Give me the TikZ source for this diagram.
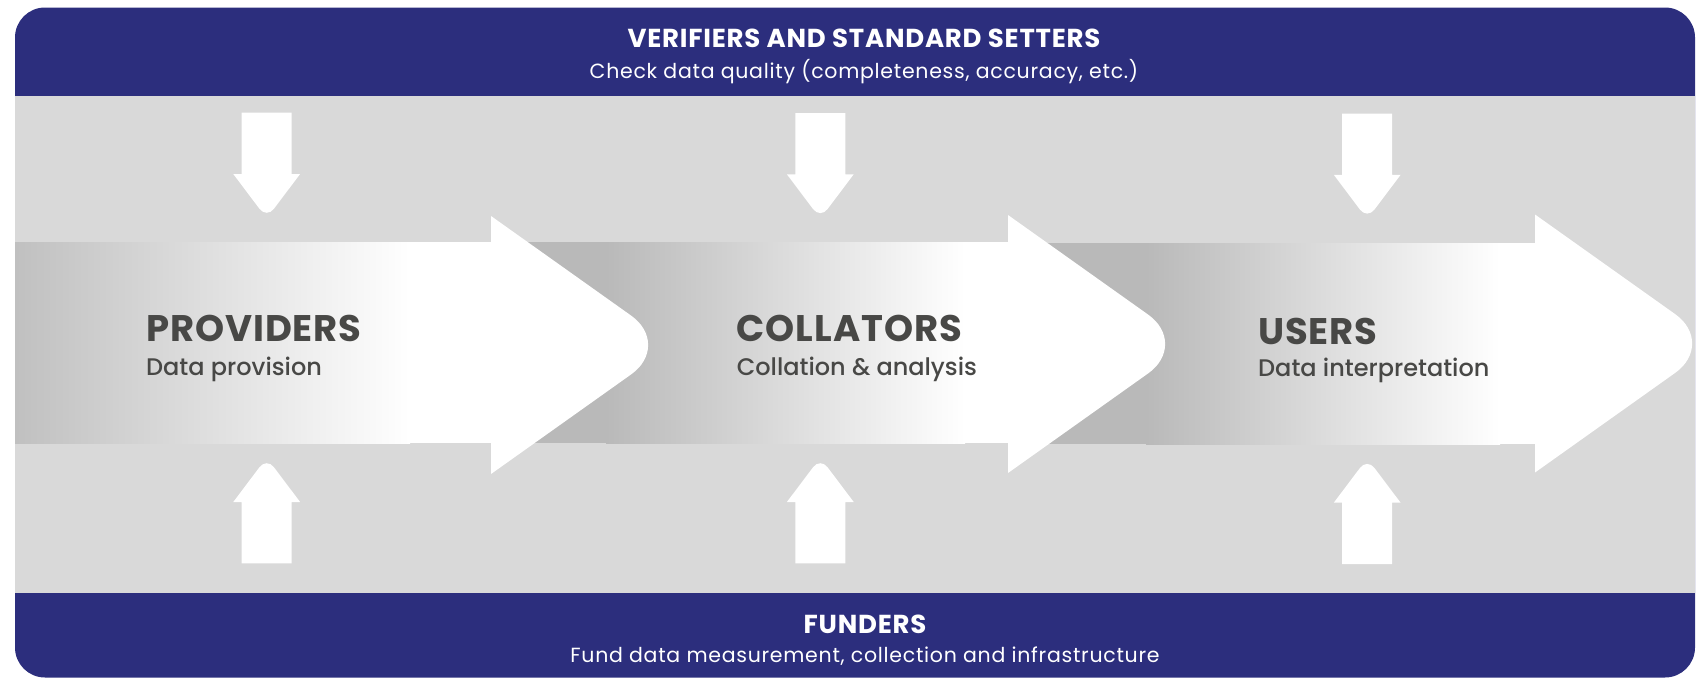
\documentclass[tikz,border=0pt]{standalone}
\usepackage{fontspec}
\setmainfont{Poppins}
\newfontfamily\popmed{Poppins Medium}
\definecolor{navy}{RGB}{44,46,125}
\definecolor{bggray}{RGB}{217,217,217}
\definecolor{txtgray}{RGB}{72,72,70}
\definecolor{shadeA}{RGB}{192,192,192}
\definecolor{shadeB}{RGB}{185,185,185}
\tikzset{
  bighead/.pic={\fill[white] (0,-129) -- (140.4,-29.2) .. controls (162.7,-13.2) and (162.7,13.2) .. (140.4,29.2) -- (0,129) -- cycle;},
  downarrow/.pic={\fill[white] (-25,0) -- (-25,61.3) -- (-33.4,61.3) -- (-7.2,96.1) .. controls (-3.2,101.4) and (3.2,101.4) .. (7.2,96.1) -- (33.4,61.3) -- (25,61.3) -- (25,0) -- cycle;},
  bigname/.style={anchor=base west, inner sep=0pt, text=txtgray, font=\fontsize{37}{40}\selectfont\bfseries\addfontfeatures{LetterSpace=2.5}},
  bigsub/.style={anchor=base west, inner sep=0pt, text=txtgray, font=\popmed\fontsize{24}{28}\selectfont},
  bandtitle/.style={anchor=base, inner sep=0pt, text=white, font=\fontsize{26}{30}\selectfont\bfseries\addfontfeatures{LetterSpace=3}},
  bandsub/.style={anchor=base, inner sep=0pt, text=white, font=\fontsize{20.5}{24}\selectfont\addfontfeatures{LetterSpace=3.5}},
}
\begin{document}
\begin{tikzpicture}[x=1pt,y=-1pt]
\useasboundingbox (0,0) rectangle (1698,678);
% frame
\fill[navy, rounded corners=30pt] (15,7.5) rectangle (1695,677.5);
\fill[bggray] (15,95.5) rectangle (1695,593.3);
% arrow 3
\fill[shadeB] (1020,243) rectangle (1146,444);
\shade[left color=shadeB, right color=white] (1146,243) rectangle (1500,444);
\fill[white] (1499,243) rectangle (1537,444);
\pic at (1535,343.5) {bighead};
% arrow 2
\fill[shadeB] (500,242) rectangle (606,443);
\shade[left color=shadeB, right color=white] (606,242) rectangle (965,443);
\fill[white] (964,242) rectangle (1010,443);
\pic at (1008,344) {bighead};
% arrow 1
\shade[left color=shadeA, right color=white] (15,242) rectangle (410,443);
\fill[white] (409,242) rectangle (493,443);
\pic at (491,345) {bighead};
% small arrows
\pic at (266.7,112.7) {downarrow};
\pic at (820.3,113) {downarrow};
\pic at (1367.2,113.5) {downarrow};
\pic[yscale=-1] at (266.7,563.3) {downarrow};
\pic[yscale=-1] at (820.3,563.3) {downarrow};
\pic[yscale=-1] at (1367.2,564) {downarrow};
% texts
\node[bandtitle] (vtitle) at (864,47.3) {VERIFIERS AND STANDARD SETTERS};
\node[bandsub] (vsub) at (864,78.3) {Check data quality (completeness, accuracy, etc.)};
\node[bandtitle] (ftitle) at (865,633) {FUNDERS};
\node[bandsub] (fsub) at (865,662) {Fund data measurement, collection and infrastructure};
\node[bigname] (prov) at (146,341) {PROVIDERS};
\node[bigsub] (provs) at (146,375) {Data provision};
\node[bigname] (coll) at (736.6,341.7) {COLLATORS};
\node[bigsub] (colls) at (736.6,375) {Collation \& analysis};
\node[bigname] (user) at (1258,344) {USERS};
\node[bigsub] (users) at (1258,376) {Data interpretation};
\end{tikzpicture}
\end{document}
